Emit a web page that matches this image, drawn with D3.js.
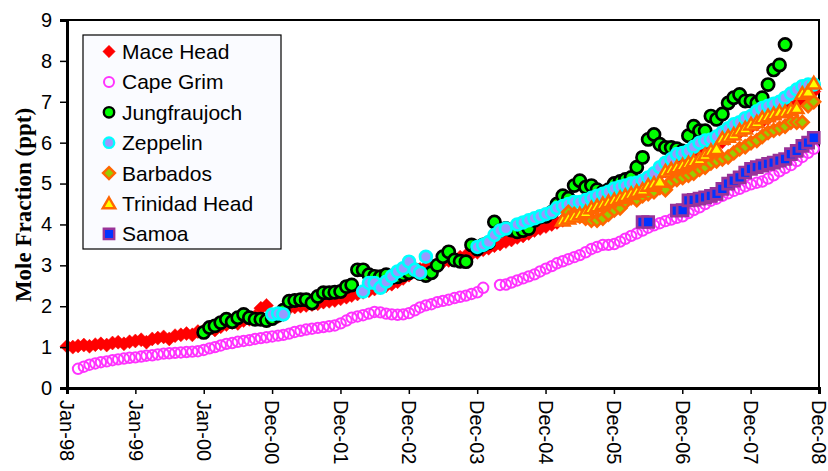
<!DOCTYPE html>
<html>
<head>
<meta charset="utf-8">
<script src="https://cdn.jsdelivr.net/npm/d3@7"></script>
<style>
  body { margin: 0; background: #fff; }
  svg text { font-family: Arial, "Liberation Sans", sans-serif; fill: #000; }
</style>
</head>
<body>
<div id="chart"></div>
<script>
// monthly mean mole fractions (ppt); null = no data that month
// every series is indexed by month, starting at the month given in its *Start
var maceHeadStart = [1998, 0];
var maceHead = [
  1.02, 1.0, 1.03, 1.05, 1.02, 1.06, 1.08, 1.05, 1.1, 1.12, 1.08, 1.13,
  1.15, 1.18, 1.12, 1.2, 1.22, 1.25, 1.2, 1.28, 1.3, 1.33, 1.3, 1.38,
  1.4, 1.45, 1.42, 1.5, 1.55, 1.6, 1.58, 1.65, 1.68, 1.75, 1.95, 2.02,
  1.78, 1.75, 1.8, 1.95, 1.98, 2.0, 2.02, 2.04, 2.06, 2.1, 2.12, 2.14,
  2.18, 2.22, 2.26, 2.3, 2.34, 2.38, 2.42, 2.46, 2.5, 2.54, 2.6, 2.68,
  2.76, 2.84, 2.9, 2.96, 3.0, 3.04, 3.08, 3.12, 3.16, 3.2, 3.24, 3.28,
  3.32, 3.38, 3.42, 3.48, 3.52, 3.58, 3.62, 3.68, 3.72, 3.78, 3.85, 3.9,
  3.95, 4.0, 4.05, 4.1, 4.15, 4.2, 4.25, 4.3, 4.35, 4.42, 4.5, 4.55,
  4.62, 4.7, 4.78, 4.85, 4.92, 5.0, 5.08, 5.15, 5.22, 5.3, 5.36, 5.42,
  5.5, 5.58, 5.65, 5.72, 5.8, 5.88, 5.95, 6.02, 6.1, 6.18, 6.25, 6.32,
  6.38, 6.45, 6.52, 6.6, 6.66, 6.72, 6.8, 6.88, 6.95, 7.05, 7.15, 7.25
];

var capeGrimStart = [1998, 2];
var capeGrim = [
  0.47, 0.52, 0.57, 0.6, 0.63, 0.65, 0.68, 0.7, 0.72, 0.74,
  0.75, 0.77, 0.79, 0.8, 0.82, 0.84, 0.85, 0.86, 0.87, 0.88, 0.89, 0.9,
  0.93, 0.97, 1.0, 1.04, 1.08, 1.1, 1.13, 1.15, 1.17, 1.2, 1.22, 1.24,
  1.26, 1.28, 1.3, 1.33, 1.37, 1.4, 1.43, 1.45, 1.47, 1.49, 1.51, 1.53,
  1.58, 1.65, 1.72, 1.75, 1.78, 1.82, 1.86, 1.85, 1.82, 1.8, 1.79, 1.8,
  1.83, 1.9, 1.97, 2.02, 2.05, 2.1, 2.13, 2.16, 2.2, 2.23, 2.26, 2.3,
  2.34, 2.45, null, null, 2.52, 2.53, 2.58, 2.63, 2.68, 2.73, 2.78, 2.85,
  2.92, 2.98, 3.05, 3.1, 3.15, 3.2, 3.25, 3.32, 3.4, 3.45, 3.5, 3.5,
  3.52, 3.58, 3.65, 3.72, 3.78, 3.85, 3.92, 3.98, 4.03, 4.08, 4.12, 4.16,
  4.2, 4.28, 4.35, 4.42, 4.5, 4.58, 4.63, 4.7, 4.76, 4.82, 4.87, 4.93,
  4.98, 5.02, 5.05, 5.12, 5.2, 5.3, 5.38, 5.45, 5.55, 5.65, 5.75, 5.85
];

var jungfraujochStart = [2000, 0];
var jungfraujoch = [
  1.36, 1.48, 1.52, 1.6, 1.68, 1.62, 1.72, 1.8, 1.72, 1.68, 1.68, 1.65,
  1.7, 1.78, 1.9, 2.12, 2.14, 2.16, 2.16, 2.08, 2.24, 2.33, 2.33, 2.34,
  2.36, 2.48, 2.52, 2.89, 2.89, 2.77, 2.73, 2.72, 2.77, 2.7, 2.72, 2.77,
  2.82, 2.89, 2.8, 2.75, 2.82, 3.0, 3.21, 3.33, 3.13, 3.1, 3.09, 3.5,
  3.4, 3.5, 3.55, 4.06, 3.85, 3.9, 3.86, 3.82, 3.85, 3.9, 4.1, 4.18,
  4.2, 4.3, 4.5, 4.7, 4.64, 4.95, 5.07, 4.91, 4.95, 4.85, 4.79, 4.85,
  5.0, 5.05, 5.1, 5.15, 5.4, 5.64, 6.08, 6.2, 5.96, 5.88, 5.88, 5.85,
  5.8, 6.17, 6.4, 6.29, 6.29, 6.65, 6.57, 6.7, 6.97, 7.1, 7.18, 7.02,
  7.02, 6.97, 7.1, 7.42, 7.78, 7.9, 8.4
];

var zeppelinStart = [2001, 0];
var zeppelin = [
  1.8, 1.82, 1.8, null, null, null, null, null, null, null, null, null,
  null, null, null, null, 2.36, 2.57, 2.57, 2.45, 2.6, 2.73, 2.85, 2.93,
  3.09, 2.89, 2.82, 3.21, null, null, null, null, null, null, null, null,
  3.45, 3.5, 3.57, 3.74, 3.85, 3.9, null, 4.0, 4.05, 4.1, 4.15, 4.2,
  4.25, 4.3, 4.4, 4.45, 4.5, 4.55, 4.55, 4.6, 4.65, 4.7, 4.75, 4.8,
  4.88, 4.92, 4.95, 5.0, 5.02, 5.07, 5.15, 5.25, 5.4, 5.51, 5.6, 5.72,
  5.75, 5.8, 5.9, 6.0, 6.05, 6.08, 6.15, 6.25, 6.35, 6.45, 6.5, 6.6,
  6.65, 6.77, 6.85, 6.9, 6.95, 7.0, 7.1, 7.2, 7.3, 7.38, 7.42, 7.42
];

var barbadosStart = [2005, 4];
var barbados = [
  4.3, 4.25, 4.2, 4.15, 4.1, 4.1, 4.15, 4.25,
  4.35, 4.4, 4.55, 4.65, 4.6, 4.7, 4.75, 4.8, 4.9, 4.85, 5.05, 5.1,
  5.15, 5.2, 5.25, 5.35, 5.4, 5.5, 5.55, 5.6, 5.65, 5.75, 5.85, 5.9,
  6.0, 6.05, 6.15, 6.25, 6.3, 6.35, 6.4, 6.5, 6.5, 6.5, 6.9, 7.0
];

var trinidadHeadStart = [2005, 3];
var trinidadHead = [
  4.1, 4.15, 4.2, 4.25, 4.3, 4.4, 4.45, 4.5, 4.55,
  4.6, 4.65, 4.7, 4.75, 4.8, 4.85, 4.95, 5.0, 5.05, 5.3, 5.35, 5.4,
  5.45, 5.5, 5.55, 5.6, 5.7, 5.8, 5.85, 6.1, 6.15, 6.2, 6.3, 6.35,
  6.45, 6.5, 6.6, 6.65, 6.7, 6.75, 6.75, 6.8, 6.85, 7.2, 7.25, 7.45
];

var samoaStart = [2006, 5];
var samoa = [
  4.06, 4.06, null, null, null, null, 4.34, 4.35, 4.59, 4.6, 4.63, 4.66,
  4.7, 4.75, 4.87, 5.0, 5.07, 5.15, 5.27, 5.36, 5.4, 5.44, 5.48, 5.51,
  5.56, 5.6, 5.72, 5.8, 5.92, 6.0, 6.12
];

var seriesNames = ["Mace Head", "Cape Grim", "Jungfraujoch", "Zeppelin",
                   "Barbados", "Trinidad Head", "Samoa"];

var yTicks = [0, 1, 2, 3, 4, 5, 6, 7, 8, 9];
var xTickStep = 365;   // days between x tick labels, as in the original sheet
var xTickCount = 12;

/* ---------------------------------------------------------------- */

var w = 828, h = 471;
var plotLeft = 67, plotRight = 819, plotTop = 20, plotBottom = 388;

var day = 864e5;
var t0 = Date.UTC(1998, 0, 1);
var xTickDates = d3.range(xTickCount).map(function(i){ return new Date(t0 + i * xTickStep * day); });

var x = d3.scaleUtc()
  .domain([xTickDates[0], xTickDates[xTickDates.length - 1]])
  .range([plotLeft, plotRight]);
var y = d3.scaleLinear().domain([0, 9]).range([plotBottom, plotTop]);

function toPoints(start, vals) {
  var pts = [];
  vals.forEach(function(v, i){
    if (v == null) return;
    pts.push({ date: new Date(Date.UTC(start[0], start[1] + i, 1)), value: v });
  });
  return pts;
}

// marker shapes
function diamond(s) { return "M0," + (-s) + "L" + s + ",0L0," + s + "L" + (-s) + ",0Z"; }
function triangle(s) { return "M0," + (-s) + "L" + (s * 1.05) + "," + (s * 0.8) + "L" + (-s * 1.05) + "," + (s * 0.8) + "Z"; }
function square(s) { return "M" + (-s) + "," + (-s) + "H" + s + "V" + s + "H" + (-s) + "Z"; }
function circle(r) { return d3.arc()({ innerRadius: 0, outerRadius: r, startAngle: 0, endAngle: 2 * Math.PI }); }

var styles = {
  "Mace Head":     { path: diamond(7), fill: "#ff0000", stroke: "#ff0000", sw: 0.5, lpath: diamond(6.2) },
  "Cape Grim":     { path: circle(5.2), fill: "none", stroke: "#ff33ff", sw: 2, lpath: circle(5) },
  "Jungfraujoch":  { path: circle(6.1), fill: "#00ff00", stroke: "#000000", sw: 2.7, lpath: circle(5.2) },
  "Zeppelin":      { path: circle(5.9), fill: "#9999ff", stroke: "#00ffff", sw: 2.7, lpath: circle(5.2) },
  "Barbados":      { path: diamond(6.3), fill: "#99cc00", stroke: "#ff6600", sw: 2.7, lpath: diamond(6) },
  "Trinidad Head": { path: triangle(6.4), fill: "#ffff00", stroke: "#ff6600", sw: 2.5, lpath: triangle(6) },
  "Samoa":         { path: square(5.5), fill: "#0033ff", stroke: "#993399", sw: 2.7, lpath: square(5.2) }
};

var seriesData = [
  toPoints(maceHeadStart, maceHead),
  toPoints(capeGrimStart, capeGrim),
  toPoints(jungfraujochStart, jungfraujoch),
  toPoints(zeppelinStart, zeppelin),
  toPoints(barbadosStart, barbados),
  toPoints(trinidadHeadStart, trinidadHead),
  toPoints(samoaStart, samoa)
];

var svg = d3.select("#chart").append("svg")
  .attr("width", w)
  .attr("height", h);

// frame
svg.append("rect")
  .attr("x", plotLeft).attr("y", plotTop)
  .attr("width", plotRight - plotLeft).attr("height", plotBottom - plotTop)
  .attr("fill", "#fff").attr("stroke", "#000").attr("stroke-width", 2);

// data
seriesNames.forEach(function(name, k){
  var st = styles[name];
  svg.append("g").selectAll("path")
    .data(seriesData[k])
    .enter().append("path")
    .attr("d", st.path)
    .attr("transform", function(d){ return "translate(" + x(d.date) + "," + y(d.value) + ")"; })
    .attr("fill", st.fill)
    .attr("stroke", st.stroke)
    .attr("stroke-width", st.sw);
});

// axes
var yAxis = svg.append("g")
  .attr("transform", "translate(" + plotLeft + ",0)")
  .call(d3.axisLeft(y).tickValues(yTicks).tickSize(7).tickPadding(8).tickFormat(d3.format("d")));
yAxis.select(".domain").attr("stroke-width", 3);
yAxis.selectAll(".tick line").attr("stroke-width", 1.5);
yAxis.selectAll("text").style("font-size", "20px");

var xAxis = svg.append("g")
  .attr("transform", "translate(0," + plotBottom + ")")
  .call(d3.axisBottom(x).tickValues(xTickDates).tickSize(6).tickFormat(d3.utcFormat("%b-%y")));
xAxis.select(".domain").attr("stroke-width", 3);
xAxis.selectAll(".tick line").attr("stroke-width", 1.5);
xAxis.selectAll("text")
  .style("font-size", "20px")
  .attr("text-anchor", "start")
  .attr("transform", "rotate(90)")
  .attr("x", 12)
  .attr("y", 0)
  .attr("dy", "0.36em");

// y title
svg.append("text")
  .attr("transform", "translate(31,205) rotate(-90)")
  .attr("text-anchor", "middle")
  .style("font-family", "'Liberation Serif', 'Times New Roman', serif")
  .style("font-weight", "bold")
  .style("font-size", "23px")
  .text("Mole Fraction (ppt)");

// legend
var legend = svg.append("g");
legend.append("rect")
  .attr("x", 83).attr("y", 35)
  .attr("width", 198).attr("height", 214)
  .attr("fill", "#fafbff").attr("stroke", "#000").attr("stroke-width", 1.2);

var rows = legend.selectAll("g.row")
  .data(seriesNames)
  .enter().append("g")
  .attr("class", "row")
  .attr("transform", function(d, i){ return "translate(0," + (51.5 + i * 30.4) + ")"; });
rows.append("path")
  .attr("transform", "translate(109,0)")
  .attr("d", function(d){ return styles[d].lpath; })
  .attr("fill", function(d){ return styles[d].fill; })
  .attr("stroke", function(d){ return styles[d].stroke; })
  .attr("stroke-width", function(d){ return Math.min(styles[d].sw, 2.4); });
rows.append("text")
  .attr("x", 122)
  .attr("dy", "0.36em")
  .style("font-size", "21px")
  .text(function(d){ return d; });
</script>
</body>
</html>
